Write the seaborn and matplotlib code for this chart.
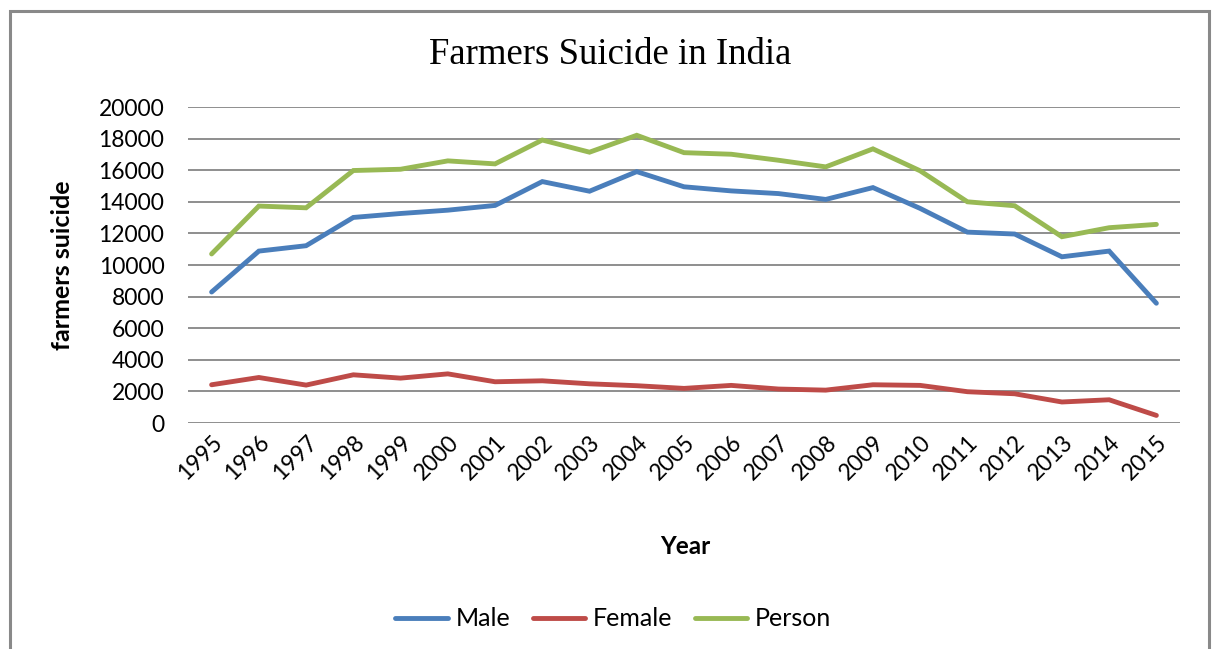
import matplotlib
matplotlib.use("Agg")
import matplotlib.pyplot as plt
import matplotlib.patches as mpatches
import seaborn as sns
import pandas as pd

years = list(range(1995, 2016))
male = [8290, 10880, 11220, 13010, 13260, 13470, 13770, 15280, 14670, 15910,
        14950, 14690, 14520, 14150, 14900, 13580, 12080, 11960, 10520, 10880, 7580]
female = [2420, 2880, 2400, 3050, 2840, 3110, 2610, 2670, 2480, 2360,
          2190, 2380, 2150, 2080, 2420, 2380, 1980, 1850, 1330, 1470, 480]
person = [10700, 13730, 13620, 15980, 16060, 16590, 16400, 17910, 17140, 18210,
          17110, 17010, 16630, 16210, 17350, 15960, 14000, 13750, 11790, 12360, 12570]
series_names = ["Male", "Female", "Person"]
colors = ["#4A7EBB", "#BE4B48", "#98B954"]

df = pd.DataFrame({
    "Year": years * 3,
    "value": male + female + person,
    "series": [series_names[0]] * len(years) + [series_names[1]] * len(years) + [series_names[2]] * len(years),
})

sns.set_style("white")
plt.rcParams["font.family"] = ["Lato", "DejaVu Sans"]
plt.rcParams["text.color"] = "black"

fig = plt.figure(figsize=(12.13, 6.49), dpi=100)
ax = fig.add_axes([188 / 1213, 1 - 423 / 649, (1180 - 188) / 1213, (423 - 107) / 649])

sns.lineplot(data=df, x="Year", y="value", hue="series", hue_order=series_names,
             palette=colors, linewidth=3.5, ax=ax, legend=True,
             solid_capstyle="round", solid_joinstyle="miter")

ax.set_xlim(1994.5, 2015.5)
ax.set_ylim(0, 20000)
ax.set_yticks(range(0, 20001, 2000))
ax.set_yticklabels([str(v) for v in range(0, 20001, 2000)], fontsize=16.5, color="black")
ax.set_xticks(years)
ax.set_xticklabels([str(y) for y in years], rotation=45, ha="right",
                   rotation_mode="anchor", fontsize=16.5, color="black")
ax.tick_params(axis="both", length=0)
ax.tick_params(axis="y", pad=17)
ax.tick_params(axis="x", pad=6)

ax.grid(axis="y", color="#868686", linewidth=1.3)
ax.grid(axis="x", visible=False)
ax.set_axisbelow(True)
for s in ax.spines.values():
    s.set_visible(False)

ax.set_xlabel("Year", fontsize=17.5, fontweight="bold", color="black")
ax.set_ylabel("farmers suicide", fontsize=18, fontweight="bold", color="black")
ax.xaxis.set_label_coords((685 - 188) / (1180 - 188), -(547 - 423) / (423 - 107))
ax.yaxis.set_label_coords(-(188 - 62) / (1180 - 188), (423 - 265) / (423 - 107))
ax.xaxis.label.set_va("center")
ax.yaxis.label.set_va("center")

fig.text(610 / 1213, 1 - 55 / 649, "Farmers Suicide in India", ha="center", va="center",
         fontsize=26.5, color="black", family=["Liberation Serif", "DejaVu Serif"])

handles, labels = ax.get_legend_handles_labels()
for h in handles:
    h.set_linewidth(3.5)
ax.legend(handles, labels, loc="center", bbox_to_anchor=(613 / 1213, 1 - 619 / 649),
          bbox_transform=fig.transFigure, ncol=3, frameon=False, fontsize=18,
          handlelength=2.1, columnspacing=0.9, handletextpad=0.3)

border = mpatches.Rectangle((10 / 1213, -0.05), (1209 - 10) / 1213, 1.05 - 11 / 649,
                            transform=fig.transFigure, fill=False,
                            edgecolor="#898989", linewidth=2.2, clip_on=False)
fig.patches.append(border)

fig.savefig("out.png", dpi=100, facecolor="white")
